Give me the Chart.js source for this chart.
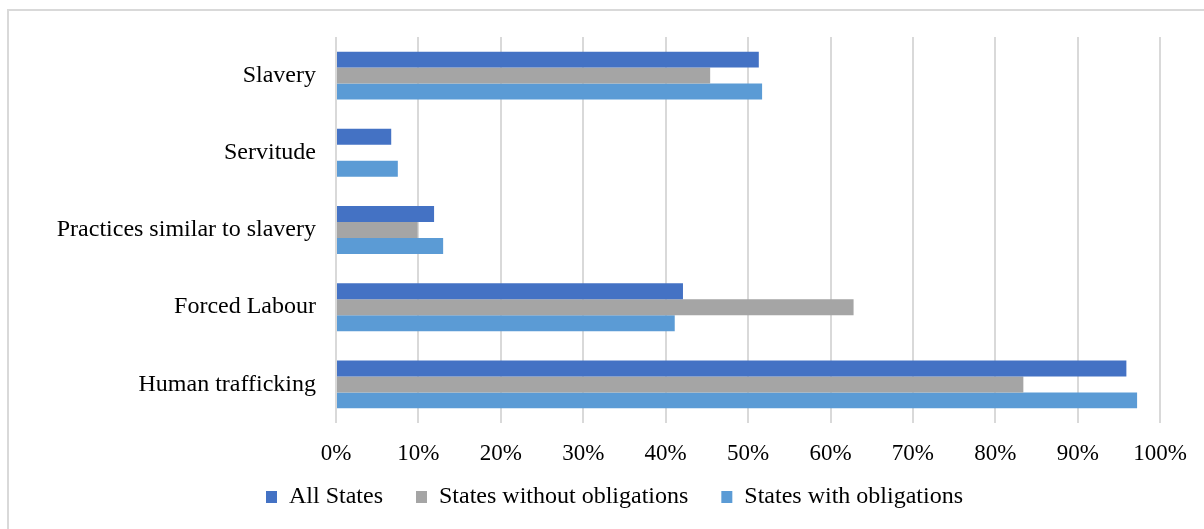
<!DOCTYPE html>
<html>
<head>
<meta charset="utf-8">
<script src="https://cdn.jsdelivr.net/npm/chart.js@4"></script>
<style>
  html, body { margin: 0; padding: 0; background: #fff; overflow: hidden; }
  #wrap { position: relative; width: 1204px; height: 529px; }
  #frame { position: absolute; left: 7px; top: 9px; width: 1300px; height: 600px;
           border-left: 2px solid #d9d9d9; border-top: 2px solid #d9d9d9; }
  canvas { position: absolute; left: 0; top: 0; }
</style>
</head>
<body>
<div id="wrap">
  <div id="frame"></div>
  <canvas id="chart" width="1204" height="529"></canvas>
</div>
<script>
// categories and series (percent)
const categories = ['Slavery', 'Servitude', 'Practices similar to slavery', 'Forced Labour', 'Human trafficking'];
const allStates = [51.3, 6.7, 11.9, 42.1, 95.9];
const statesWithout = [45.4, 0, 9.9, 62.8, 83.4];
const statesWith = [51.7, 7.5, 13.0, 41.1, 97.2];
const seriesNames = ['All States', 'States without obligations', 'States with obligations'];
const seriesColors = ['#4472C4', '#A5A5A5', '#5B9BD5'];

const family = '"Liberation Serif", "Times New Roman", serif';

// the legend needs wide gaps between items, which also pads it vertically; move it back into place
const legendShift = {
    id: 'legendShift',
    afterLayout(chart) {
        const lg = chart.legend;
        lg.top -= 17;
        lg.bottom -= 17;
        lg.left += 33;
        lg.right += 33;
    }
};

new Chart(document.getElementById('chart'), {
    type: 'bar',
    data: {
        labels: categories,
        datasets: [allStates, statesWithout, statesWith].map((d, i) => ({
            label: seriesNames[i],
            data: d,
            backgroundColor: seriesColors[i],
            borderWidth: 0,
            categoryPercentage: 0.62,
            barPercentage: 1.0
        }))
    },
    plugins: [legendShift],
    options: {
        indexAxis: 'y',
        responsive: false,
        animation: false,
        layout: { padding: { left: 0, top: 37, right: 41, bottom: 0 } },
        plugins: {
            legend: {
                position: 'bottom',
                maxHeight: 60,
                labels: {
                    font: { family: family, size: 24 },
                    color: '#000',
                    boxWidth: 11,
                    boxHeight: 12,
                    padding: 33
                }
            },
            tooltip: { enabled: false }
        },
        scales: {
            x: {
                min: 0,
                max: 100,
                ticks: {
                    stepSize: 10,
                    font: { family: family, size: 23 },
                    color: '#000',
                    padding: 17,
                    callback: v => v + '%'
                },
                grid: { color: '#d9d9d9', lineWidth: 2, drawTicks: false },
                border: { display: false },
                afterFit: scale => { scale.height = 46; }
            },
            y: {
                ticks: { font: { family: family, size: 24 }, color: '#000', padding: 12 },
                grid: { display: false },
                border: { display: false },
                afterFit: scale => { scale.width = 336; }
            }
        }
    }
});
</script>
</body>
</html>
